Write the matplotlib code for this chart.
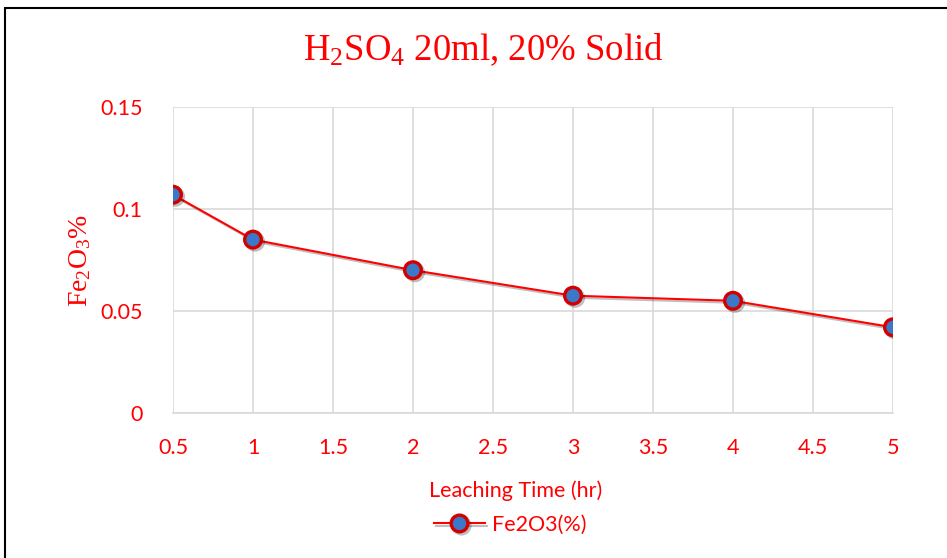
import matplotlib.pyplot as plt
import matplotlib.patheffects as pe
from matplotlib.patches import Rectangle

# data
time_hr = [0.5, 1, 2, 3, 4, 5]
fe2o3_pct = [0.107, 0.085, 0.070, 0.0575, 0.055, 0.042]
x_ticks = [0.5, 1, 1.5, 2, 2.5, 3, 3.5, 4, 4.5, 5]
y_ticks = [0, 0.05, 0.1, 0.15]
y_tick_labels = ["0", "0.05", "0.1", "0.15"]
x_tick_labels = ["0.5", "1", "1.5", "2", "2.5", "3", "3.5", "4", "4.5", "5"]

plt.rcParams["mathtext.fontset"] = "custom"
plt.rcParams["mathtext.rm"] = "Liberation Serif"
plt.rcParams["mathtext.it"] = "Liberation Serif"

fig = plt.figure(figsize=(9.47, 5.58), dpi=100)
ax = fig.add_axes([173 / 947, 1 - 413 / 558, 720 / 947, 306 / 558])

ax.plot(time_hr, fe2o3_pct, color="red", lw=1.5, marker="o", ms=12,
        mfc="#3a78c8", mec="#d40000", mew=2.4, label="Fe2O3(%)", zorder=3,
        path_effects=[pe.SimpleLineShadow(offset=(1.5, -1.5), alpha=0.25), pe.Normal()])

ax.set_xlim(0.5, 5)
ax.set_ylim(0, 0.15)
ax.set_xticks(x_ticks)
ax.set_xticklabels(x_tick_labels)
ax.set_yticks(y_ticks)
ax.set_yticklabels(y_tick_labels)
ax.grid(True, color="#d9d9d9", lw=1.2)
ax.set_axisbelow(True)
for side in ("top", "right", "left"):
    ax.spines[side].set_visible(False)
ax.spines["bottom"].set_color("#d9d9d9")
ax.spines["bottom"].set_linewidth(1.2)
ax.tick_params(length=0, colors="red", labelsize=15.5)
ax.tick_params(axis="x", pad=18)
ax.tick_params(axis="y", pad=22)
for lab in ax.get_xticklabels() + ax.get_yticklabels():
    lab.set_family("Lato")

fig.text(483 / 947, 1 - 50 / 558, r"H$_2$SO$_4$ 20ml, 20% Solid", ha="center", va="center",
         color="red", fontsize=26.5, family="Liberation Serif")
fig.text(80 / 947, 1 - 260 / 558, r"Fe$_2$O$_3$%", rotation=90, ha="center", va="center",
         color="red", fontsize=20, family="Liberation Serif")
fig.text(516 / 947, 1 - 491 / 558, "Leaching Time (hr)", ha="center", va="center",
         color="red", fontsize=15.5, family="Lato")

leg = fig.legend(loc="center", bbox_to_anchor=(510 / 947, 1 - 525 / 558), frameon=False,
                 prop={"family": "Lato", "size": 15.5}, handlelength=2.4, handletextpad=0.3)
for t in leg.get_texts():
    t.set_color("red")

fig.patches.append(Rectangle((5 / 947, -0.1), 1.2, 1 - 8 / 558 + 0.1, transform=fig.transFigure,
                             fill=False, ec="black", lw=1.5))

fig.savefig("out.png", dpi=100)
